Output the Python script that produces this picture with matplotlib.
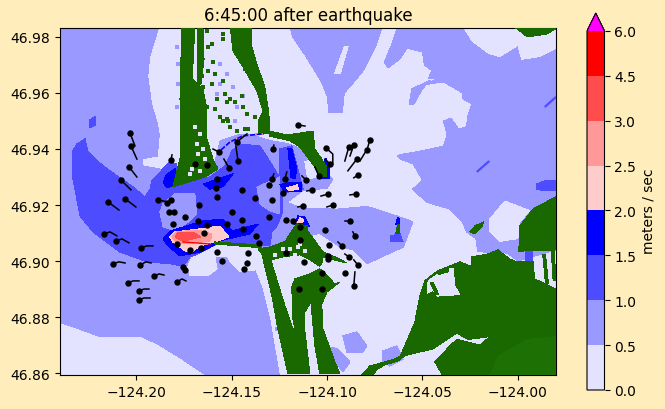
import matplotlib
matplotlib.use("Agg")
import matplotlib.pyplot as plt
from matplotlib.cm import ScalarMappable
from matplotlib.colors import BoundaryNorm, ListedColormap

# --- speed bands and colours ---
BOUNDS = [0, 0.5, 1, 1.5, 2, 2.5, 3, 4.5, 6]
BAND_COLORS = ["#e3e3ff", "#9999ff", "#4d4dff", "#0000ff", "#ffcccc", "#ff9999", "#ff4d4d", "#ff0000"]
LAND = "#1a6800"
LAND_BRIGHT = "#1d7003"
BG = "#ffeebb"
XTICKS = [-124.20, -124.15, -124.10, -124.05, -124.00]
YTICKS = [46.86, 46.88, 46.90, 46.92, 46.94, 46.96, 46.98]

# --- speed regions, (lon, lat) outlines ---
MED_WEST = [(-124.240,46.984),(-124.188,46.984),(-124.193,46.973),(-124.194,46.966),(-124.192,46.956),(-124.189,46.949),
    (-124.188,46.945),(-124.189,46.9375),(-124.197,46.9365),(-124.197,46.934),(-124.189,46.933),(-124.181,46.932),
    (-124.159,46.935),(-124.156,46.943),(-124.147,46.945),(-124.139,46.945),(-124.130,46.943),(-124.121,46.942),
    (-124.113,46.940),(-124.107,46.9375),(-124.104,46.935),(-124.097,46.929),(-124.100,46.926),(-124.113,46.925),
    (-124.121,46.921),(-124.114,46.919),(-124.095,46.9185),(-124.079,46.9195),(-124.063,46.916),(-124.055,46.914),
    (-124.060,46.905),(-124.076,46.900),(-124.079,46.899),(-124.086,46.904),(-124.093,46.905),(-124.104,46.910),
    (-124.114,46.908),(-124.130,46.905),(-124.138,46.897),(-124.134,46.890),(-124.130,46.879),(-124.125,46.859),
    (-124.163,46.859),(-124.176,46.865),(-124.188,46.870),(-124.197,46.873),(-124.219,46.873),(-124.231,46.876),(-124.240,46.878)]
MED_EAST = [(-124.063,46.984),(-123.980,46.984),(-123.980,46.904),(-124.000,46.900),(-124.005,46.9025),(-124.011,46.904),
    (-124.016,46.903),(-124.021,46.9035),(-124.022,46.908),(-124.027,46.9105),(-124.029,46.914),(-124.036,46.9186),
    (-124.048,46.921),(-124.055,46.9257),(-124.050,46.929),(-124.055,46.9347),(-124.062,46.9365),(-124.063,46.9375),
    (-124.062,46.938),(-124.053,46.939),(-124.039,46.941),(-124.037,46.945),(-124.039,46.950),(-124.035,46.951),
    (-124.031,46.947),(-124.027,46.948),(-124.026,46.9525),(-124.024,46.956),(-124.029,46.958),(-124.029,46.960),
    (-124.039,46.964),(-124.048,46.963),(-124.043,46.965),(-124.047,46.965),(-124.045,46.968),(-124.049,46.970),
    (-124.050,46.9746),(-124.058,46.976),(-124.062,46.972),(-124.068,46.969),(-124.070,46.971),(-124.066,46.9775)]
MED_NORTH = [(-124.1195,46.984),(-124.071,46.984),(-124.074,46.9775),(-124.081,46.968),(-124.087,46.963),(-124.091,46.960),
    (-124.092,46.953),(-124.099,46.953),(-124.100,46.959),(-124.103,46.964),(-124.111,46.973),(-124.118,46.980)]
MED_PATCH_A = [(-124.0917,46.8733),(-124.0844,46.8747),(-124.0792,46.8697),(-124.0812,46.8675),(-124.0896,46.8675)]
MED_PATCH_B = [(-124.0985,46.8693),(-124.0943,46.8686),(-124.088,46.864),(-124.0917,46.8604),(-124.0959,46.864)]
MED_PATCH_C = [(-124.0708,46.8679),(-124.0634,46.8697),(-124.0602,46.865),(-124.0671,46.8625),(-124.0708,46.864)]
MED_SLIVER = [(-124.057,46.956),(-124.0555,46.9615),(-124.046,46.9645),(-124.050,46.9615),(-124.0545,46.956)]
MED_HOLE_A = [(-124.1876,46.9175),(-124.186,46.9204),(-124.1797,46.924),(-124.1693,46.924),(-124.1682,46.9168),
    (-124.1719,46.9143),(-124.1797,46.9107),(-124.186,46.9122)]
MED_HOLE_B = [(-124.1368,46.9264),(-124.1247,46.93),(-124.1247,46.9168),(-124.13,46.9179),(-124.1352,46.9204)]

LIGHT_SOUTH = [(-124.173,46.898),(-124.1708,46.9015),(-124.164,46.9036),(-124.1577,46.9054),(-124.1342,46.9054),(-124.1336,46.8972),
    (-124.1457,46.8961),(-124.1509,46.900),(-124.1525,46.9018),(-124.1588,46.9015),(-124.1577,46.8972),(-124.1625,46.8947),(-124.1719,46.8947)]
LIGHT_BAY = [(-124.1116,46.9354),(-124.1064,46.9365),(-124.1054,46.93),(-124.1101,46.9293)]
LIGHT_STREAK = [(-124.096,46.967),(-124.091,46.9765),(-124.089,46.9765),(-124.093,46.967)]
LIGHT_NE = [(-124.029,46.984),(-124.024,46.9786),(-124.015,46.974),(-124.0094,46.973),(-124.000,46.977),(-123.998,46.972),
    (-123.9885,46.973),(-123.980,46.976),(-123.980,46.984)]
LIGHT_E = [(-124.0147,46.915),(-124.0068,46.9214),(-123.9938,46.918),(-123.999,46.914),(-124.000,46.908),(-124.0094,46.907),(-124.0147,46.9105)]
LIGHT_INLET = [(-124.047,46.893),(-124.0393,46.8965),(-124.034,46.8975),(-124.033,46.891),(-124.0304,46.888),(-124.042,46.8875),
    (-124.0446,46.8895),(-124.0476,46.8885)]

DARK_BODY = [(-124.2337,46.939),(-124.2311,46.9418),(-124.2269,46.9436),(-124.2253,46.939),(-124.2175,46.934),(-124.2101,46.9304),
    (-124.2017,46.9265),(-124.1955,46.9229),(-124.1928,46.9257),(-124.1918,46.9286),(-124.186,46.9329),(-124.1824,46.9354),
    (-124.1787,46.9347),(-124.1787,46.9293),(-124.1808,46.9265),(-124.1703,46.9286),(-124.1614,46.93),(-124.1535,46.934),
    (-124.1499,46.9393),(-124.1457,46.9418),(-124.1352,46.9411),(-124.1315,46.9372),(-124.1237,46.9286),(-124.1232,46.925),
    (-124.1232,46.9175),(-124.1263,46.9125),(-124.1289,46.9104),(-124.13,46.9054),(-124.1588,46.9061),(-124.1625,46.9043),
    (-124.1677,46.9025),(-124.1719,46.9015),(-124.1735,46.8997),(-124.1755,46.8982),(-124.1824,46.899),(-124.1944,46.8997),
    (-124.2086,46.9032),(-124.2227,46.9104),(-124.2295,46.9161),(-124.2337,46.9311)]
DARK_BAY = [(-124.1247,46.94),(-124.1185,46.9411),(-124.1142,46.93),(-124.1126,46.9257),(-124.1247,46.924)]
DARK_NE = [(-123.990,46.9275),(-123.986,46.9286),(-123.980,46.9286),(-123.980,46.925),(-123.986,46.925),(-123.990,46.9257)]
DARK_DOT = [(-124.2243,46.9505),(-124.2215,46.9515),(-124.2215,46.9485),(-124.2243,46.9475)]
DARK_ISLE = [(-124.067,46.909),(-124.0618,46.9097),(-124.0602,46.9068),(-124.0666,46.9068)]
DARK_CREEK = [(-123.9964,46.9035),(-123.9921,46.9035),(-123.9921,46.900),(-123.9964,46.900)]

BLUE_A = [(-124.186,46.9282),(-124.184,46.931),(-124.1797,46.9329),(-124.1782,46.9293),(-124.1808,46.9268),(-124.184,46.9261)]
BLUE_B = [(-124.165,46.9275),(-124.1493,46.9311),(-124.1546,46.9265),(-124.1614,46.9257)]
BLUE_C = [(-124.186,46.9079),(-124.1824,46.9107),(-124.1651,46.9143),(-124.1546,46.915),(-124.1499,46.9107),(-124.1362,46.9132),
    (-124.1404,46.9097),(-124.1562,46.9072),(-124.1577,46.9061),(-124.1666,46.9032),(-124.1771,46.9018),(-124.1834,46.9054)]
BLUE_D = [(-124.1205,46.94),(-124.1185,46.94),(-124.1158,46.9329),(-124.1169,46.9293),(-124.119,46.93)]
BLUE_E = [(-124.1247,46.9272),(-124.1195,46.9282),(-124.1132,46.9282),(-124.1132,46.925),(-124.1221,46.9247)]
BLUE_F = [(-124.1169,46.9129),(-124.1153,46.9161),(-124.1116,46.9157),(-124.109,46.9122)]
BLUE_G = [(-124.1027,46.9347),(-124.1006,46.9365),(-124.0985,46.9329),(-124.0985,46.9293),(-124.1027,46.9293)]
BLUE_H = [(-124.064,46.9132),(-124.063,46.9157),(-124.0618,46.915),(-124.0618,46.9132)]

PINK_MAIN = [(-124.1824,46.9086),(-124.1797,46.9104),(-124.1666,46.9115),(-124.1562,46.9125),(-124.1515,46.9086),(-124.1588,46.9068),
    (-124.1666,46.9054),(-124.1708,46.9032),(-124.1745,46.9036),(-124.1771,46.905),(-124.1808,46.9068)]
PINK_E = [(-124.1211,46.9261),(-124.1158,46.9272),(-124.1148,46.9257),(-124.12,46.925)]
PINK_F = [(-124.1158,46.9136),(-124.1142,46.9154),(-124.1122,46.9147),(-124.1132,46.9136)]
SALMON_MAIN = [(-124.1813,46.9086),(-124.1787,46.9106),(-124.1666,46.9109),(-124.1605,46.9097),(-124.161,46.9072),(-124.1703,46.9064),
    (-124.1761,46.9064),(-124.1797,46.9072)]
RED_MAIN = [(-124.1797,46.9086),(-124.1782,46.9102),(-124.1698,46.9102),(-124.1662,46.9086),(-124.1755,46.907)]

# --- land, (lon, lat) outlines ---
LAND_NORTH_A = [(-124.1761,46.984),(-124.1693,46.984),(-124.1703,46.9704),(-124.1708,46.965),(-124.1651,46.9614),(-124.163,46.9543),
    (-124.163,46.9436),(-124.1598,46.9364),(-124.1572,46.9329),(-124.164,46.93),(-124.1808,46.9265),(-124.1771,46.9364),
    (-124.1766,46.9472),(-124.1771,46.9579),(-124.1766,46.9721)]
LAND_NORTH_B = [(-124.1677,46.984),(-124.1651,46.984),(-124.1645,46.9721),(-124.1661,46.9632),(-124.1682,46.9632),(-124.1677,46.9721)]
LAND_NORTH_C = [(-124.1509,46.984),(-124.1493,46.975),(-124.1441,46.9693),(-124.1368,46.9607),(-124.1336,46.9536),(-124.1362,46.95),
    (-124.1362,46.9454),(-124.13,46.9454),(-124.13,46.9489),(-124.131,46.955),(-124.1326,46.9621),(-124.1368,46.9704),
    (-124.1394,46.9764),(-124.1394,46.984)]
LAND_PENINSULA = [(-124.13,46.9464),(-124.1211,46.945),(-124.1142,46.9457),(-124.1074,46.9464),(-124.1064,46.94),(-124.1028,46.9364),
    (-124.1001,46.9336),(-124.1001,46.93),(-124.1038,46.93),(-124.1064,46.9336),(-124.1142,46.9407),(-124.1195,46.9429),(-124.13,46.9446)]
LAND_BAR = [(-124.1588,46.9068),(-124.1342,46.9057),(-124.1342,46.9047),(-124.1588,46.9061)]
LAND_CORE = [(-124.1362,46.9043),(-124.13,46.905),(-124.122,46.907),(-124.116,46.9133),(-124.11,46.9125),(-124.11,46.9105),
    (-124.102,46.9032),(-124.096,46.9015),(-124.0896,46.8993),(-124.0985,46.9007),(-124.102,46.9015),(-124.1028,46.899),
    (-124.104,46.8982),(-124.109,46.9005),(-124.1142,46.9022),(-124.1232,46.9015),(-124.1285,46.9005),(-124.1336,46.902)]
LAND_STRIP_W = [(-124.1342,46.9025),(-124.13,46.9015),(-124.1221,46.884),(-124.1142,46.8686),(-124.1132,46.8597),(-124.1205,46.8597),
    (-124.1258,46.8758),(-124.1289,46.8875)]
LAND_STRIP_S = [(-124.1185,46.8907),(-124.1169,46.8936),(-124.109,46.8954),(-124.1038,46.8972),(-124.10,46.8947),(-124.0959,46.8918),
    (-124.0933,46.8925),(-124.10,46.889),(-124.1028,46.8847),(-124.1022,46.8758),(-124.0959,46.864),(-124.0933,46.8597),
    (-124.1038,46.8597),(-124.1064,46.8697),(-124.1085,46.8854),(-124.1116,46.8818),(-124.1116,46.8747),(-124.109,46.8597),
    (-124.1126,46.8597),(-124.1179,46.8793)]
LAND_WEDGE = [(-124.0823,46.859),(-124.0776,46.8625),(-124.0645,46.865),(-124.0592,46.8668),(-124.0556,46.8704),(-124.054,46.8686),
    (-124.063,46.8643),(-124.0697,46.8629),(-124.0734,46.8615),(-124.0765,46.859)]
LAND_ISLE = [(-124.064,46.9097),(-124.063,46.9132),(-124.0618,46.9132),(-124.0623,46.9097)]
LAND_ISLAND = [(-124.0252,46.9105),(-124.0225,46.9125),(-124.018,46.914),(-124.019,46.912),(-124.0225,46.9097)]
LAND_EAST_UP = [(-123.980,46.923),(-123.992,46.9186),(-123.999,46.9125),(-123.9995,46.9035),(-123.980,46.904)]
LAND_EAST_MAIN = [(-124.0618,46.8658),(-124.054,46.8782),(-124.0514,46.8875),(-124.0487,46.893),(-124.042,46.8965),(-124.0304,46.8997),
    (-124.0241,46.898),(-124.0241,46.9015),(-124.0157,46.9025),(-124.0105,46.904),(-124.0042,46.9007),(-124.0016,46.900),
    (-123.9921,46.900),(-123.9912,46.8936),(-123.980,46.890),(-123.980,46.859),(-124.0393,46.859),(-124.0435,46.864),
    (-124.0356,46.8697),(-124.032,46.872),(-124.0199,46.870),(-124.0147,46.873),(-124.0262,46.872),(-124.032,46.8743),(-124.0446,46.8686)]
LAND_TOP = [(-124.0026,46.984),(-123.995,46.980),(-123.985,46.981),(-123.980,46.983),(-123.980,46.984)]
LAND_STREAK_A = [(-123.987,46.9025),(-123.9855,46.9025),(-123.984,46.892),(-123.9855,46.892)]
LAND_STREAK_B = [(-123.9825,46.904),(-123.981,46.904),(-123.980,46.893),(-123.9815,46.893)]
LAND_STREAK_C = [(-124.046,46.8925),(-124.0445,46.8925),(-124.0415,46.888),(-124.043,46.888)]
LAND_STREAK_D = [(-124.0415,46.8965),(-124.0365,46.8975),(-124.0365,46.8962),(-124.0415,46.8952)]
LAND_HILL = [(-124.015,46.859),(-124.010,46.866),(-123.995,46.872),(-123.980,46.873),(-123.980,46.859)]

# --- scattered cells ---
LAND_SPECK_LON = [-124.1598,-124.1624,-124.1656,-124.1588,-124.1604,-124.1651,-124.1677,-124.1577,-124.163,-124.1588,-124.1562,-124.152,
    -124.1666,-124.163,-124.1546,-124.1546,-124.1604,-124.1624,-124.1457,-124.1431,-124.1525,-124.1446,-124.142,-124.1378,-124.1509,
    -124.1431,-124.1546,-124.1535,-124.1509,-124.1483,-124.1441,-124.1525,-124.1546,-124.1472,-124.1415]
LAND_SPECK_LAT = [46.9711,46.9679,46.9661,46.9668,46.9632,46.9621,46.9589,46.9579,46.955,46.9543,46.9514,46.95,
    46.9525,46.9821,46.9811,46.9793,46.9775,46.9764,46.9729,46.9686,46.9568,46.9589,46.9525,46.9514,46.9479,
    46.9472,46.9643,46.9596,46.9579,46.9568,46.955,46.9507,46.95,46.9464,46.9472]
MED_SPECK_LON = [-124.1562,-124.1525,-124.1562,-124.1493,-124.1577,-124.1441,-124.1472,-124.1483,-124.1787,-124.1782,-124.1782,-124.1787,
    -124.1263,-124.1226,-124.1205]
MED_SPECK_LAT = [46.9704,46.9668,46.9632,46.9621,46.9596,46.9589,46.955,46.95,46.9764,46.9704,46.9632,46.955,
    46.8758,46.8686,46.8622]
LIGHT_SPECK_LON = [-124.1693,-124.1666,-124.1682,-124.1651,-124.1677,-124.164,-124.1708,-124.1719,-124.1666,-124.1273,-124.1232,-124.1195,
    -124.1153,-124.1116,-124.1169,-124.1142]
LIGHT_SPECK_LAT = [46.9479,46.9454,46.9418,46.94,46.9382,46.9364,46.9329,46.9311,46.9322,46.9022,46.9043,46.9043,
    46.905,46.9036,46.9022,46.9061]

# --- thin features, (lon, lat) ---
BAY_EDGE = [(-124.1562,46.9393),(-124.1509,46.9425),(-124.1441,46.9447),(-124.1336,46.9454)]
RED_STREAK = [(-124.1755,46.9068),(-124.1614,46.9061)]
DARK_LINE_A = [(-123.9859,46.955),(-123.980,46.9586)]
DARK_LINE_B = [(-124.0215,46.9318),(-124.015,46.9357)]

# --- gauges: first point is the dot, the rest is the track behind it ---
GAUGE_TRACKS = [
    [(-124.2033,46.9457),(-124.2007,46.9411)],[(-124.2028,46.9411),(-124.1997,46.9364)],[(-124.2038,46.9336),(-124.1997,46.93)],
    [(-124.208,46.9289),(-124.2028,46.9254)],[(-124.2148,46.9211),(-124.2091,46.9182)],[(-124.2059,46.9222),(-124.2002,46.9193)],
    [(-124.2169,46.9097),(-124.2138,46.9104),(-124.2102,46.909)],[(-124.2107,46.9072),(-124.2075,46.9079),(-124.2039,46.9065)],
    [(-124.1976,46.9047),(-124.1944,46.9054),(-124.1913,46.9054)],[(-124.2122,46.899),(-124.2091,46.8997),(-124.2059,46.8993)],
    [(-124.1981,46.8986),(-124.1949,46.8997),(-124.1923,46.8993)],[(-124.1907,46.8946),(-124.1881,46.8954),(-124.1855,46.895)],
    [(-124.1787,46.8925),(-124.1761,46.8936),(-124.174,46.8929)],[(-124.2044,46.8922),(-124.2017,46.8929),(-124.1986,46.8929)],
    [(-124.1986,46.8893),(-124.196,46.89),(-124.1934,46.89)],[(-124.1986,46.8861),(-124.196,46.8868),(-124.1928,46.8868)],
    [(-124.1886,46.9218),(-124.1834,46.9211)],[(-124.1818,46.9361),(-124.1813,46.9379)],[(-124.1567,46.9389),(-124.1598,46.94)],
    [(-124.1514,46.9332),(-124.1541,46.9364)],[(-124.1473,46.9425),(-124.142,46.9454)],[(-124.1467,46.9357),(-124.1478,46.9411)],
    [(-124.1284,46.94),(-124.1279,46.9414)],[(-124.1153,46.9486),(-124.1116,46.9482)],[(-124.1006,46.9404),(-124.097,46.9382),(-124.097,46.9347)],
    [(-124.1043,46.9304),(-124.1064,46.9336)],[(-124.1111,46.9289),(-124.1132,46.9304)],[(-124.1221,46.9293),(-124.1211,46.9318)],
    [(-124.1289,46.9293),(-124.1279,46.9311)],[(-124.108,46.9254),(-124.1106,46.925)],[(-124.0996,46.9239),(-124.1032,46.9232)],
    [(-124.0849,46.9239),(-124.088,46.9236)],[(-124.1126,46.9197),(-124.1153,46.9193)],[(-124.097,46.92),(-124.1001,46.9193)],
    [(-124.088,46.9143),(-124.0907,46.9143)],[(-124.0839,46.9307),(-124.086,46.9297)],[(-124.0844,46.9364),(-124.0891,46.9322)],
    [(-124.0886,46.9407),(-124.0907,46.9357)],[(-124.086,46.9414),(-124.088,46.9375)],[(-124.0792,46.9397),(-124.0828,46.9357)],
    [(-124.0776,46.9432),(-124.0792,46.9393)],[(-124.0854,46.909),(-124.0865,46.9104)],[(-124.0922,46.9054),(-124.0943,46.9068)],
    [(-124.0886,46.9015),(-124.0907,46.9025)],[(-124.0839,46.8986),(-124.086,46.9004)],[(-124.086,46.8911),(-124.0854,46.8961)],
    [(-124.0985,46.9347),(-124.1011,46.9364)],
]
GAUGE_LON = [-124.1755,-124.1745,-124.1693,-124.163,-124.184,-124.1818,-124.1829,-124.1803,-124.1745,-124.1672,-124.1677,-124.1808,
    -124.163,-124.1645,-124.1787,-124.1719,-124.1661,-124.1577,-124.1551,-124.1415,-124.142,-124.1436,-124.1577,-124.1583,-124.1577,
    -124.1446,-124.1378,-124.1499,-124.1446,-124.1441,-124.1525,-124.1373,-124.1357,-124.1305,-124.1232,-124.1289,-124.1305,-124.1216,
    -124.1179,-124.1142,-124.1011,-124.099,-124.1142,-124.1216,-124.0996,-124.0996,-124.1121,-124.1028,-124.1148,-124.1028,-124.0907]
GAUGE_LAT = [46.8979,46.8968,46.9347,46.9343,46.9207,46.9218,46.9175,46.9175,46.9157,46.92,46.9143,46.9132,
    46.9129,46.91,46.9061,46.904,46.9047,46.9032,46.90,46.9029,46.8993,46.8972,46.9293,46.9261,46.9229,
    46.9254,46.9225,46.9175,46.9147,46.9115,46.9132,46.909,46.9065,46.9272,46.9243,46.9218,46.9157,46.9147,
    46.9143,46.9122,46.9111,46.9057,46.9075,46.9029,46.9018,46.9007,46.8997,46.8957,46.89,46.89,46.8957]


def fill_all(ax, outlines, color, z):
    for outline in outlines:
        lon, lat = zip(*outline)
        ax.fill(lon, lat, color=color, lw=0, zorder=z, antialiased=False)


def plot_map():
    fig = plt.figure(figsize=(6.65, 4.10), dpi=100, facecolor=BG)
    ax = fig.add_axes([60 / 665, 34 / 410, 496 / 665, 347 / 410])
    ax.set_facecolor(BAND_COLORS[0])

    fill_all(ax, [MED_WEST, MED_EAST, MED_NORTH, MED_PATCH_A, MED_PATCH_B, MED_PATCH_C], BAND_COLORS[1], 1)
    fill_all(ax, [LIGHT_SOUTH, LIGHT_BAY, LIGHT_STREAK, LIGHT_NE, LIGHT_E], BAND_COLORS[0], 2)
    fill_all(ax, [MED_SLIVER], BAND_COLORS[1], 2.5)
    fill_all(ax, [DARK_BODY, DARK_BAY, DARK_NE, DARK_DOT, DARK_ISLE, DARK_CREEK], BAND_COLORS[2], 3)
    fill_all(ax, [MED_HOLE_A, MED_HOLE_B], BAND_COLORS[1], 4)
    fill_all(ax, [BLUE_A, BLUE_B, BLUE_C, BLUE_D, BLUE_E, BLUE_F, BLUE_G, BLUE_H], BAND_COLORS[3], 5)
    fill_all(ax, [PINK_MAIN, PINK_E, PINK_F], BAND_COLORS[4], 6)
    fill_all(ax, [SALMON_MAIN], BAND_COLORS[5], 7)
    fill_all(ax, [RED_MAIN], BAND_COLORS[6], 8)

    for line in [DARK_LINE_A, DARK_LINE_B]:
        ax.plot(*zip(*line), color=BAND_COLORS[2], lw=1.6, zorder=3, solid_capstyle="butt")
    ax.plot(*zip(*RED_STREAK), color=BAND_COLORS[7], lw=1, zorder=9)

    ax.scatter(MED_SPECK_LON, MED_SPECK_LAT, marker="s", s=6, color=BAND_COLORS[1], lw=0, zorder=2)
    fill_all(ax, [LAND_NORTH_A, LAND_NORTH_B, LAND_NORTH_C, LAND_PENINSULA, LAND_BAR, LAND_CORE, LAND_STRIP_W, LAND_STRIP_S,
                  LAND_WEDGE, LAND_ISLE, LAND_ISLAND, LAND_EAST_UP, LAND_EAST_MAIN, LAND_TOP, LAND_STREAK_A, LAND_STREAK_B], LAND, 10)
    fill_all(ax, [LAND_HILL], LAND_BRIGHT, 11)
    fill_all(ax, [LIGHT_INLET], BAND_COLORS[0], 11)
    fill_all(ax, [LAND_STREAK_C, LAND_STREAK_D], LAND, 12)
    ax.scatter(LAND_SPECK_LON, LAND_SPECK_LAT, marker="s", s=10, color=LAND, lw=0, zorder=10)
    ax.scatter(LIGHT_SPECK_LON, LIGHT_SPECK_LAT, marker="s", s=5, color=BAND_COLORS[0], lw=0, zorder=11)
    ax.plot(*zip(*BAY_EDGE), color=BAND_COLORS[3], lw=1.2, zorder=11)
    ax.plot(*zip(*BAY_EDGE), color=BAND_COLORS[5], lw=1.2, ls=(0, (1, 3)), zorder=12)

    # gauges and their tracks
    for track in GAUGE_TRACKS:
        lon, lat = zip(*track)
        ax.plot(lon, lat, color="k", lw=1.1, zorder=13)
        ax.plot(lon[0], lat[0], "o", color="k", ms=4.6, mew=0, zorder=14)
    ax.plot(GAUGE_LON, GAUGE_LAT, "o", color="k", ms=4.6, mew=0, ls="none", zorder=14)

    ax.set_xlim(-124.24, -123.98)
    ax.set_ylim(46.8593, 46.9832)
    ax.set_xticks(XTICKS)
    ax.set_yticks(YTICKS)
    ax.ticklabel_format(useOffset=False)
    ax.set_title("6:45:00 after earthquake", fontsize=12)

    # colour bar
    cmap = ListedColormap(BAND_COLORS)
    cmap.set_over("#ff00ff")
    norm = BoundaryNorm(BOUNDS, cmap.N)
    cax = fig.add_axes([587 / 665, 19 / 410, 17.5 / 665, 377 / 410])
    cb = fig.colorbar(ScalarMappable(norm=norm, cmap=cmap), cax=cax, extend="max", spacing="uniform",
                      ticks=BOUNDS, format="%.1f")
    cb.set_label("meters / sec")

    fig.savefig("out.png", dpi=100, facecolor=BG)


if __name__ == "__main__":
    plot_map()
